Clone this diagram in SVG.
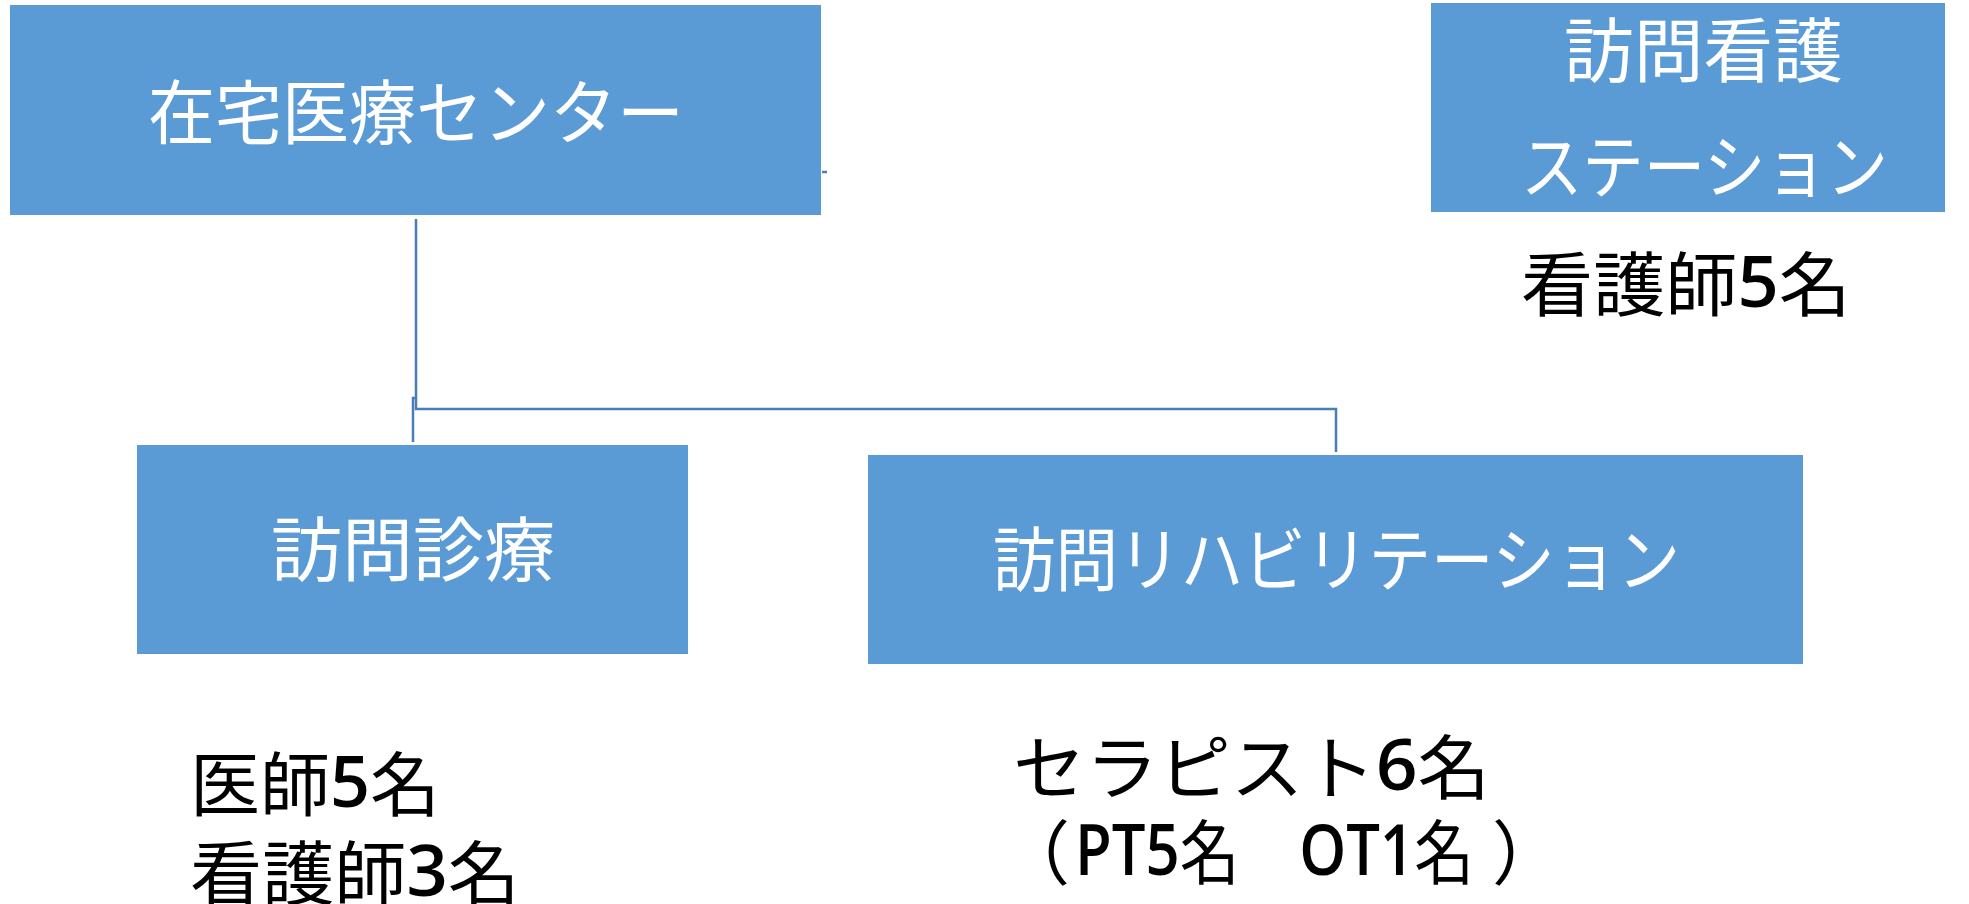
<svg xmlns="http://www.w3.org/2000/svg" width="1969" height="904" viewBox="0 0 1969 904">
<style>
.box{fill:#5b9bd5;}
.wt{fill:#ffffff;font-family:"Noto Sans CJK JP","Noto Sans CJK SC",sans-serif;font-size:70px;dominant-baseline:central;}
.bt{fill:#000000;font-family:"Noto Sans CJK JP","Noto Sans CJK SC",sans-serif;font-size:70px;dominant-baseline:central;}
.num{font-family:"Open Sans","Noto Sans CJK JP",sans-serif;font-weight:600;}
.con{fill:none;stroke:#4a7ebb;stroke-width:2.5;}
</style>
<rect width="1969" height="904" fill="#ffffff"/>
<g id="connectors">
<path class="con" d="M416 219 V409 H1336 V452"/>
<path class="con" d="M413 442 V398 H416" stroke-width="2"/>
<path class="con" d="M822 172 H827" stroke-width="2"/>
</g>
<g id="zaitaku">
<rect class="box" x="10" y="5" width="811" height="210"/>
<text class="wt" x="148" y="108" textLength="536" lengthAdjust="spacingAndGlyphs">在宅医療センター</text>
</g>
<g id="houmon-kango">
<rect class="box" x="1431" y="3" width="514" height="209"/>
<text class="wt" x="1564" y="46" textLength="279" lengthAdjust="spacingAndGlyphs">訪問看護</text>
<text class="wt" x="1521" y="162" textLength="367" lengthAdjust="spacingAndGlyphs">ステーション</text>
</g>
<g id="kango-staff">
<text class="bt" x="1521" y="280" textLength="330" lengthAdjust="spacingAndGlyphs">看護師<tspan class="num">5</tspan>名</text>
</g>
<g id="houmon-shinryo">
<rect class="box" x="137" y="445" width="551" height="209"/>
<text class="wt" x="271" y="545" textLength="284" lengthAdjust="spacingAndGlyphs">訪問診療</text>
</g>
<g id="shinryo-staff">
<text class="bt" x="190" y="780" textLength="250" lengthAdjust="spacingAndGlyphs">医師<tspan class="num">5</tspan>名</text>
<text class="bt" x="190" y="869" textLength="330" lengthAdjust="spacingAndGlyphs">看護師<tspan class="num">3</tspan>名</text>
</g>
<g id="houmon-reha">
<rect class="box" x="868" y="455" width="935" height="209"/>
<text class="wt" x="993" y="555" textLength="687" lengthAdjust="spacingAndGlyphs">訪問リハビリテーション</text>
</g>
<g id="reha-staff">
<text class="bt" x="1013" y="763" textLength="477" lengthAdjust="spacingAndGlyphs">セラピスト<tspan class="num">6</tspan>名</text>
<text class="bt" x="1000" y="848" font-size="76">（</text>
<text class="bt" x="1075" y="848" textLength="399" lengthAdjust="spacingAndGlyphs"><tspan class="num">PT5</tspan>名　<tspan class="num">OT1</tspan>名</text>
<text class="bt" x="1492" y="848" font-size="76">）</text>
</g>
</svg>
